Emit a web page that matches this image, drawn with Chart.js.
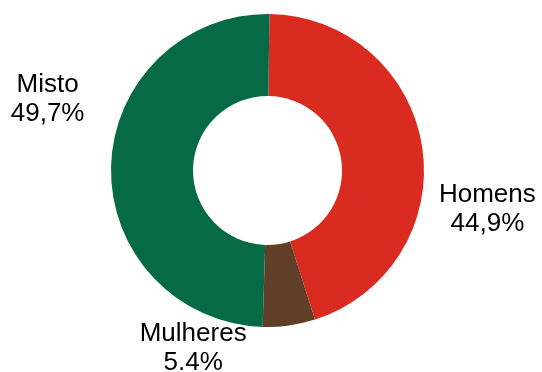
<!DOCTYPE html>
<html>
<head>
<meta charset="utf-8">
<script src="https://cdn.jsdelivr.net/npm/chart.js@4/dist/chart.umd.min.js"></script>
<style>
  html, body { margin: 0; padding: 0; background: #fff; }
  #chart { display: block; }
</style>
</head>
<body>
<canvas id="chart" width="542" height="372"></canvas>
<script>
// slices, clockwise from 12 o'clock
const categories = ["Homens", "Mulheres", "Misto"];
const shares = [44.9, 5.4, 49.7];
const shareLabels = ["44,9%", "5.4%", "49,7%"];
const sliceColors = ["#d92b20", "#613e27", "#066a46"];

// where each label sits, as a fraction of the outer radius from the centre
// (x offset, y offset of first baseline)
const labelOffsets = [
  [1.405, 0.20],
  [-0.475, 1.09],
  [-1.405, -0.503]
];

const sliceLabels = {
  id: "sliceLabels",
  afterDatasetsDraw(chart){
    let ctx = chart.ctx;
    let arcs = chart.getDatasetMeta(0).data;
    ctx.save();
    ctx.font = "26px 'Liberation Sans', Arial, sans-serif";
    ctx.fillStyle = "#000";
    ctx.textAlign = "center";
    ctx.textBaseline = "alphabetic";
    arcs.forEach((arc, i) => {
      let r = arc.outerRadius;
      let x = arc.x + labelOffsets[i][0] * r;
      let y = arc.y + labelOffsets[i][1] * r;
      ctx.fillText(categories[i], x, y);
      ctx.fillText(shareLabels[i], x, y + 29);
    });
    ctx.restore();
  }
};

new Chart(document.querySelector("#chart").getContext("2d"), {
  type: "doughnut",
  data: {
    labels: categories,
    datasets: [{
      data: shares,
      backgroundColor: sliceColors,
      borderWidth: 0
    }]
  },
  options: {
    responsive: false,
    animation: false,
    cutout: "47.6%",
    rotation: 0.7,
    layout: {
      padding: { left: 111, top: 14, right: 118, bottom: 45 }
    },
    plugins: {
      legend: { display: false },
      tooltip: { enabled: false }
    }
  },
  plugins: [sliceLabels]
});
</script>
</body>
</html>
